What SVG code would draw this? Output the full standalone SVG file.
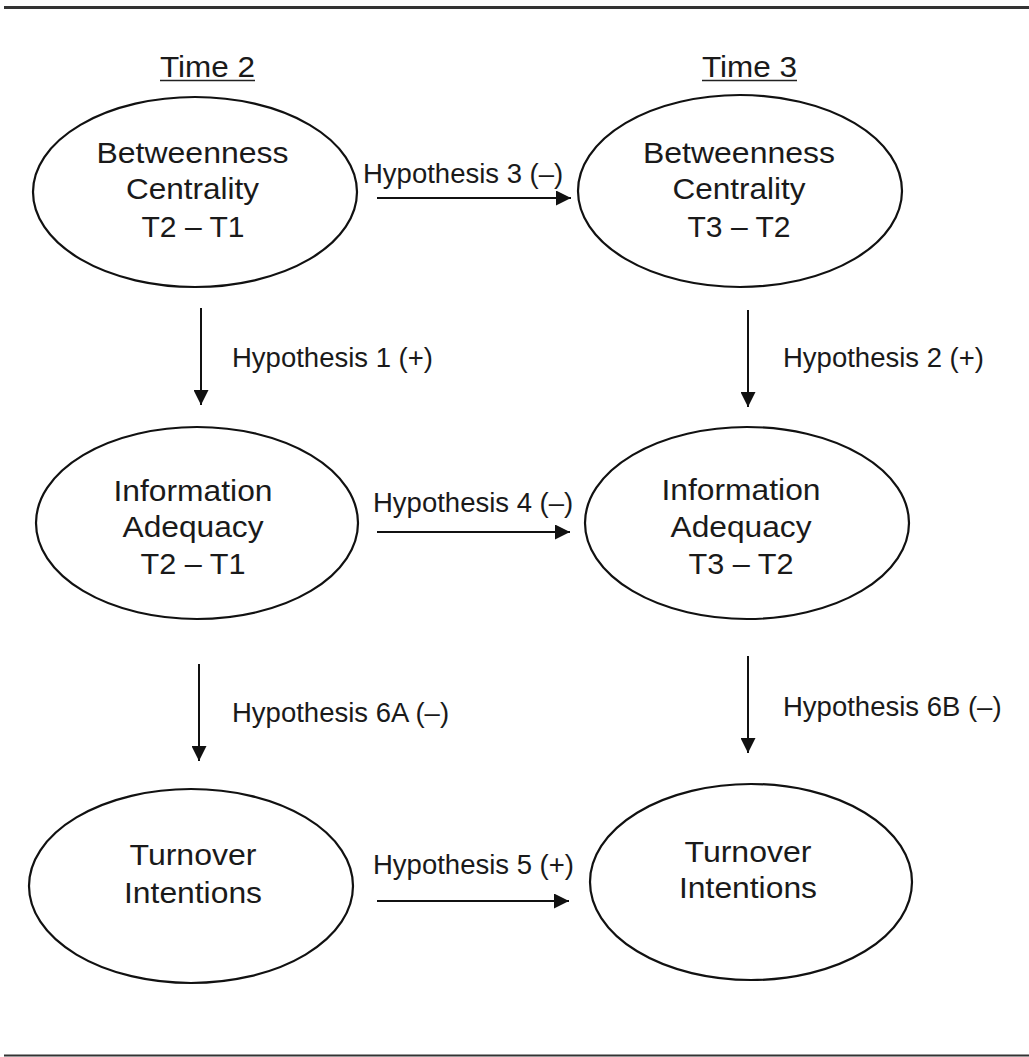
<svg xmlns="http://www.w3.org/2000/svg" width="1029" height="1057" viewBox="0 0 1029 1057">
<style>
.node ellipse{fill:#fff;stroke:#111;stroke-width:2.2}
.nt{font-family:"Liberation Sans",Arial,sans-serif;font-size:29px;fill:#1a1a1a;text-anchor:middle}
.lbl{font-family:"Liberation Sans",Arial,sans-serif;font-size:27.5px;fill:#1a1a1a}
.hd{font-family:"Liberation Sans",Arial,sans-serif;font-size:30px;fill:#1a1a1a;text-anchor:middle}
.edge{stroke:#111;stroke-width:2;fill:none;marker-end:url(#ah)}
.rule{stroke:#333;fill:none}
</style>
<defs>
<marker id="ah" viewBox="0 0 15 15" refX="15" refY="7.5" markerWidth="15" markerHeight="15" markerUnits="userSpaceOnUse" orient="auto">
<path d="M0,0 L15,7.5 L0,15 Z" fill="#111"/>
</marker>
</defs>
<rect width="1029" height="1057" fill="#fff"/>
<line class="rule" x1="4" y1="7.5" x2="1029" y2="7.5" stroke-width="3"/>
<line class="rule" x1="4" y1="1055.5" x2="1029" y2="1055.5" stroke-width="2"/>

<g id="header-time2">
<text class="hd" x="207.5" y="77" textLength="95" lengthAdjust="spacingAndGlyphs">Time 2</text>
<line x1="160" y1="80.5" x2="255" y2="80.5" stroke="#222" stroke-width="1.5"/>
</g>
<g id="header-time3">
<text class="hd" x="749.5" y="77" textLength="95" lengthAdjust="spacingAndGlyphs">Time 3</text>
<line x1="702" y1="80.5" x2="797" y2="80.5" stroke="#222" stroke-width="1.5"/>
</g>

<g id="bc-t2" class="node">
<ellipse cx="195" cy="192" rx="162" ry="95"/>
<text class="nt" x="192.5" y="163" textLength="192" lengthAdjust="spacingAndGlyphs">Betweenness</text>
<text class="nt" x="192.5" y="199" textLength="133" lengthAdjust="spacingAndGlyphs">Centrality</text>
<text class="nt" x="193" y="237" textLength="103" lengthAdjust="spacingAndGlyphs">T2 – T1</text>
</g>
<g id="bc-t3" class="node">
<ellipse cx="740" cy="191" rx="162" ry="96"/>
<text class="nt" x="739" y="163" textLength="192" lengthAdjust="spacingAndGlyphs">Betweenness</text>
<text class="nt" x="739" y="199" textLength="133" lengthAdjust="spacingAndGlyphs">Centrality</text>
<text class="nt" x="739" y="237" textLength="103" lengthAdjust="spacingAndGlyphs">T3 – T2</text>
</g>
<g id="ia-t2" class="node">
<ellipse cx="197" cy="523" rx="161" ry="96"/>
<text class="nt" x="193" y="501" textLength="159" lengthAdjust="spacingAndGlyphs">Information</text>
<text class="nt" x="193" y="537" textLength="141" lengthAdjust="spacingAndGlyphs">Adequacy</text>
<text class="nt" x="193" y="574" textLength="105" lengthAdjust="spacingAndGlyphs">T2 – T1</text>
</g>
<g id="ia-t3" class="node">
<ellipse cx="747" cy="523" rx="162" ry="96"/>
<text class="nt" x="741" y="500" textLength="159" lengthAdjust="spacingAndGlyphs">Information</text>
<text class="nt" x="741" y="537" textLength="141" lengthAdjust="spacingAndGlyphs">Adequacy</text>
<text class="nt" x="741" y="574" textLength="105" lengthAdjust="spacingAndGlyphs">T3 – T2</text>
</g>
<g id="ti-t2" class="node">
<ellipse cx="191" cy="886" rx="162" ry="97"/>
<text class="nt" x="193" y="865" textLength="127" lengthAdjust="spacingAndGlyphs">Turnover</text>
<text class="nt" x="193" y="903" textLength="138" lengthAdjust="spacingAndGlyphs">Intentions</text>
</g>
<g id="ti-t3" class="node">
<ellipse cx="751" cy="882" rx="161" ry="98"/>
<text class="nt" x="748" y="862" textLength="127" lengthAdjust="spacingAndGlyphs">Turnover</text>
<text class="nt" x="748" y="898" textLength="138" lengthAdjust="spacingAndGlyphs">Intentions</text>
</g>

<g id="connectors">
<line class="edge" x1="377" y1="198" x2="571" y2="198"/>
<line class="edge" x1="377" y1="532" x2="570" y2="532"/>
<line class="edge" x1="377" y1="901" x2="569" y2="901"/>
<line class="edge" x1="201" y1="308" x2="201" y2="405"/>
<line class="edge" x1="748" y1="310" x2="748" y2="407"/>
<line class="edge" x1="199" y1="664" x2="199" y2="761"/>
<line class="edge" x1="748" y1="656" x2="748" y2="753"/>
<text class="lbl" x="363" y="183">Hypothesis 3 (–)</text>
<text class="lbl" x="373" y="512">Hypothesis 4 (–)</text>
<text class="lbl" x="373" y="874">Hypothesis 5 (+)</text>
<text class="lbl" x="232" y="367">Hypothesis 1 (+)</text>
<text class="lbl" x="783" y="367">Hypothesis 2 (+)</text>
<text class="lbl" x="232" y="722">Hypothesis 6A (–)</text>
<text class="lbl" x="783" y="716">Hypothesis 6B (–)</text>
</g>
</svg>
